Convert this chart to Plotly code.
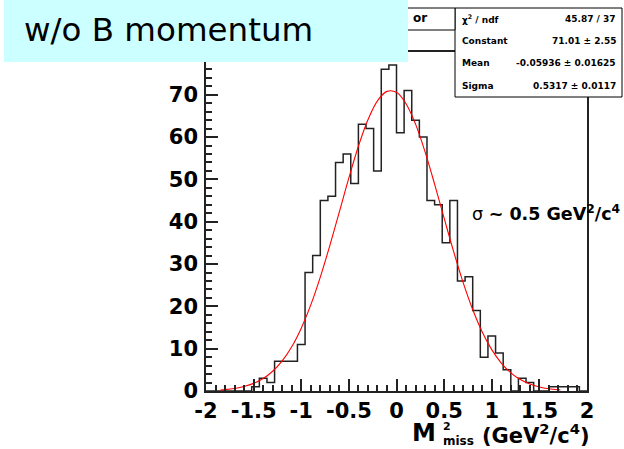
import plotly.graph_objects as go

W, H = 624, 449

# ---------------- data ----------------
x_min, x_max, n_bins = -2.0, 2.0, 50
counts = [0, 0, 0, 0, 0, 0, 1, 3, 2, 7,
          7, 7, 11, 28, 32, 45, 46, 54, 56, 49,
          63, 62, 52, 76, 77, 61, 71, 64, 60, 45,
          44, 35, 45, 26, 27, 19, 8, 13, 9, 5,
          0, 3, 2, 0, 0, 1, 1, 1, 1, 0]

fit_x = [-1.85, -1.8, -1.7, -1.6, -1.5, -1.4, -1.3, -1.2, -1.1, -1.0,
         -0.9, -0.8, -0.7, -0.6, -0.5, -0.4, -0.3, -0.2, -0.1, 0.0,
         0.1, 0.2, 0.3, 0.4, 0.5, 0.6, 0.7, 0.8, 0.9, 1.0,
         1.1, 1.2, 1.3, 1.4, 1.5, 1.6, 1.7, 1.72]
fit_y = [0.25, 0.33, 0.61, 1.07, 1.80, 2.95, 4.66, 7.10, 10.44, 14.85,
         20.34, 26.92, 34.36, 42.33, 50.36, 57.82, 64.09, 68.56, 70.80, 70.57,
         67.89, 63.05, 56.50, 48.88, 40.83, 32.92, 25.61, 19.25, 13.95, 9.77,
         6.60, 4.30, 2.71, 1.64, 0.96, 0.54, 0.30, 0.27]

x_tickvals = [-2, -1.5, -1, -0.5, 0, 0.5, 1, 1.5, 2]
x_ticktext = ["-2", "-1.5", "-1", "-0.5", "0", "0.5", "1", "1.5", "2"]
y_tickvals = [0, 10, 20, 30, 40, 50, 60, 70]
y_ticktext = ["0", "10", "20", "30", "40", "50", "60", "70"]

stats_labels = ["χ<sup>2</sup> / ndf", "Constant", "Mean", "Sigma"]
stats_values = ["45.87 / 37", "71.01 ± 2.55", "-0.05936 ± 0.01625", "0.5317 ± 0.0117"]

slide_label = "w/o B momentum"
# --------------------------------------

bw = (x_max - x_min) / n_bins
edges = [x_min + i * bw for i in range(n_bins + 1)]
step_y = counts + [counts[-1]]


def px(x):
    return x / W


def py(y):
    return 1 - y / H


fig = go.Figure()
fig.add_trace(go.Scatter(x=edges, y=step_y, mode="lines", line_shape="hv",
                         line=dict(color="#222222", width=1.5), hoverinfo="skip"))
fig.add_trace(go.Scatter(x=fit_x, y=fit_y, mode="lines", line_shape="spline",
                         line=dict(color="#ff0000", width=1.1), hoverinfo="skip"))

tickfont = dict(family="DejaVu Sans", size=21, color="black", weight="bold")
axcol = "#222222"

fig.update_layout(
    width=W, height=H,
    margin=dict(l=0, r=0, t=0, b=0, autoexpand=False),
    paper_bgcolor="white", plot_bgcolor="white",
    showlegend=False,
    xaxis=dict(domain=[px(206), px(587)], range=[x_min, x_max], automargin=False,
               tickmode="array", tickvals=x_tickvals, ticktext=x_ticktext,
               ticks="inside", ticklen=12, tickwidth=1.5, tickcolor=axcol,
               minor=dict(dtick=0.1, ticks="inside", ticklen=6, tickwidth=1.5, tickcolor=axcol),
               showline=True, linecolor=axcol, linewidth=1.5, mirror=True,
               ticklabelstandoff=0,
               showgrid=False, zeroline=False, tickfont=tickfont),
    yaxis=dict(domain=[py(391), py(52)], range=[0, 80.1], automargin=False,
               tickmode="array", tickvals=y_tickvals, ticktext=y_ticktext,
               ticks="inside", ticklen=12, tickwidth=1.5, tickcolor=axcol,
               minor=dict(dtick=2, ticks="inside", ticklen=6, tickwidth=1.5, tickcolor=axcol),
               showline=True, linecolor=axcol, linewidth=1.5, mirror=True,
               ticklabelstandoff=2,
               showgrid=False, zeroline=False, tickfont=tickfont),
)

shapes = []
# stats box
shapes.append(dict(type="rect", xref="paper", yref="paper", x0=px(455), x1=px(622),
                   y0=py(97), y1=py(8), fillcolor="white", line=dict(color="black", width=1),
                   layer="above"))
# title pave (mostly hidden)
shapes.append(dict(type="rect", xref="paper", yref="paper", x0=px(330), x1=px(455),
                   y0=py(30), y1=py(8), fillcolor="white", line=dict(color="black", width=1),
                   layer="above"))
# slide label box
shapes.append(dict(type="rect", xref="paper", yref="paper", x0=px(4), x1=px(408),
                   y0=py(62), y1=py(0), fillcolor="#CCFFFF", line=dict(width=0),
                   layer="above"))
fig.update_layout(shapes=shapes)

ann = []
ann.append(dict(text=slide_label, x=px(22), y=py(30), xref="paper", yref="paper",
                xanchor="left", yanchor="middle", showarrow=False,
                font=dict(family="DejaVu Sans", size=32.5, color="black")))
ann.append(dict(text="<b>or</b>", x=px(411), y=py(18), xref="paper", yref="paper",
                xanchor="left", yanchor="middle", showarrow=False,
                font=dict(family="DejaVu Sans", size=12, color="black")))
row_y = [19, 41, 63, 86]
for lab, val, ry in zip(stats_labels, stats_values, row_y):
    ann.append(dict(text="<b>" + lab + "</b>", x=px(460), y=py(ry), xref="paper", yref="paper",
                    xanchor="left", yanchor="middle", showarrow=False,
                    font=dict(family="DejaVu Sans", size=9, color="black")))
    ann.append(dict(text="<b>" + val + "</b>", x=px(618), y=py(ry), xref="paper", yref="paper",
                    xanchor="right", yanchor="middle", showarrow=False,
                    font=dict(family="DejaVu Sans", size=9, color="black")))

# sigma annotation
ann.append(dict(text="σ <b>~ 0.5 GeV<sup>2</sup>/c<sup>4</sup></b>", x=px(470), y=py(213),
                xref="paper", yref="paper", xanchor="left", yanchor="middle", showarrow=False,
                font=dict(family="DejaVu Sans", size=17.5, color="black")))

# x axis title (M^2_miss stacked)
tfont = dict(family="DejaVu Sans", size=21, color="black", weight="bold")
ann.append(dict(text="<b>M</b>", x=px(410), y=py(433), xref="paper", yref="paper",
                xanchor="left", yanchor="middle", showarrow=False,
                font=dict(family="DejaVu Sans", size=24, color="black")))
ann.append(dict(text="<b>2</b>", x=px(441), y=py(426), xref="paper", yref="paper",
                xanchor="left", yanchor="middle", showarrow=False,
                font=dict(family="DejaVu Sans", size=11, color="black")))
ann.append(dict(text="<b>miss</b>", x=px(441), y=py(441), xref="paper", yref="paper",
                xanchor="left", yanchor="middle", showarrow=False,
                font=dict(family="DejaVu Sans", size=12, color="black")))
ann.append(dict(text="<b>(GeV<sup>2</sup>/c<sup>4</sup>)</b>", x=px(592), y=py(434),
                xref="paper", yref="paper", xanchor="right", yanchor="middle",
                showarrow=False, font=tfont))
fig.update_layout(annotations=ann)

fig.write_html("out.html")
